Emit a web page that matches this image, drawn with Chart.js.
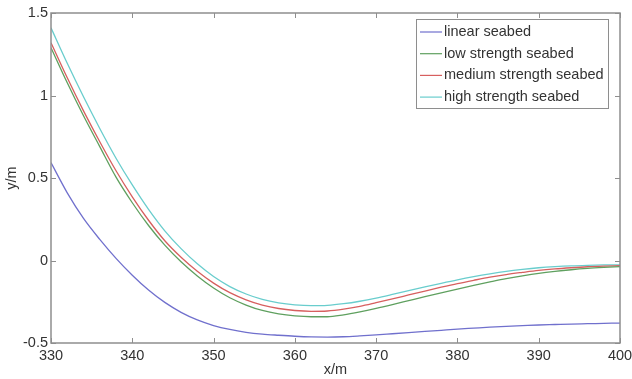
<!DOCTYPE html>
<html>
<head>
<meta charset="utf-8">
<script src="https://cdn.jsdelivr.net/npm/chart.js@4/dist/chart.umd.min.js"></script>
<style>
  html, body { margin: 0; padding: 0; background: #fff; }
  #wrap { width: 632px; height: 379px; }
</style>
</head>
<body>
<div id="wrap"><canvas id="c" width="632" height="379"></canvas></div>
<script>
// Horizontal positions (m)
const xValues = [330, 332, 334, 336, 338, 340, 342, 344, 346, 348, 350, 352, 354, 356, 358, 360,
  362, 364, 366, 368, 370, 372, 374, 376, 378, 380, 382, 384, 386, 388, 390, 392, 394, 396, 398, 400];

// Vertical displacement (m) for each seabed model
const linearSeabed = [0.593, 0.41, 0.255, 0.128, 0.013, -0.089, -0.179, -0.254, -0.314, -0.36, -0.394,
  -0.418, -0.435, -0.446, -0.453, -0.459, -0.463, -0.464, -0.462, -0.457, -0.451, -0.444, -0.437, -0.43,
  -0.423, -0.416, -0.41, -0.404, -0.399, -0.395, -0.391, -0.388, -0.385, -0.383, -0.381, -0.379];
const lowStrength = [1.29, 1.077, 0.877, 0.69, 0.505, 0.35, 0.212, 0.093, -0.008, -0.094, -0.167, -0.226,
  -0.27, -0.303, -0.324, -0.336, -0.341, -0.341, -0.329, -0.311, -0.29, -0.267, -0.243, -0.219, -0.196,
  -0.173, -0.151, -0.13, -0.11, -0.093, -0.078, -0.066, -0.056, -0.048, -0.042, -0.037];
const mediumStrength = [1.32, 1.107, 0.907, 0.72, 0.544, 0.386, 0.244, 0.12, 0.02, -0.065, -0.137,
  -0.195, -0.238, -0.27, -0.291, -0.303, -0.308, -0.306, -0.295, -0.278, -0.256, -0.233, -0.209, -0.185,
  -0.162, -0.14, -0.12, -0.101, -0.085, -0.072, -0.06, -0.051, -0.044, -0.038, -0.034, -0.031];
const highStrength = [1.41, 1.195, 0.992, 0.8, 0.62, 0.458, 0.31, 0.18, 0.072, -0.02, -0.097, -0.158,
  -0.203, -0.236, -0.257, -0.269, -0.274, -0.272, -0.262, -0.247, -0.228, -0.206, -0.183, -0.16, -0.138,
  -0.117, -0.098, -0.081, -0.066, -0.054, -0.044, -0.037, -0.032, -0.029, -0.027, -0.026];

const seriesNames = ['linear seabed', 'low strength seabed', 'medium strength seabed', 'high strength seabed'];
const seriesColors = ['rgb(112,112,205)', 'rgb(95,160,95)', 'rgb(215,95,95)', 'rgb(105,205,205)'];
const seriesValues = [linearSeabed, lowStrength, mediumStrength, highStrength];

const xTicks = [330, 340, 350, 360, 370, 380, 390, 400];
const yTicks = [-0.5, 0, 0.5, 1, 1.5];

const FONT = 'Liberation Sans, Arial, Helvetica, sans-serif';
const TEXT = '#333';
const AXIS = '#8e8e8e';

// Box frame with inward ticks on all four sides
const framePlugin = {
  id: 'frame',
  afterDatasetsDraw(chart) {
    const { ctx, chartArea: a, scales: { x, y } } = chart;
    ctx.save();
    ctx.strokeStyle = AXIS;
    ctx.lineWidth = 1.5;
    ctx.strokeRect(a.left, a.top, a.right - a.left, a.bottom - a.top);
    ctx.beginPath();
    const tl = 5;
    x.ticks.forEach(t => {
      const px = Math.round(x.getPixelForValue(t.value)) + 0.5;
      ctx.moveTo(px, a.bottom); ctx.lineTo(px, a.bottom - tl);
      ctx.moveTo(px, a.top); ctx.lineTo(px, a.top + tl);
    });
    y.ticks.forEach(t => {
      const py = Math.round(y.getPixelForValue(t.value)) + 0.5;
      ctx.moveTo(a.left, py); ctx.lineTo(a.left + tl, py);
      ctx.moveTo(a.right, py); ctx.lineTo(a.right - tl, py);
    });
    ctx.lineWidth = 1;
    ctx.stroke();
    ctx.restore();
  }
};

// Boxed legend in the upper right corner of the plot
const boxLegend = {
  id: 'boxLegend',
  afterDraw(chart) {
    const { ctx, chartArea: a } = chart;
    const left = a.right - 204, top = a.top + 6, w = 192, h = 89;
    ctx.save();
    ctx.fillStyle = '#fff';
    ctx.fillRect(left, top, w, h);
    ctx.strokeStyle = AXIS;
    ctx.lineWidth = 1;
    ctx.strokeRect(left + 0.5, top + 0.5, w, h);
    ctx.font = '14.5px ' + FONT;
    ctx.textBaseline = 'middle';
    chart.data.datasets.forEach((ds, i) => {
      const cy = top + 13 + i * 21.7;
      ctx.strokeStyle = ds.borderColor;
      ctx.lineWidth = 1.2;
      ctx.beginPath();
      ctx.moveTo(left + 4, cy); ctx.lineTo(left + 26, cy);
      ctx.stroke();
      ctx.fillStyle = TEXT;
      ctx.fillText(ds.label, left + 28, cy);
    });
    ctx.restore();
  }
};

new Chart(document.getElementById('c'), {
  type: 'line',
  data: {
    datasets: seriesValues.map((vals, i) => ({
      label: seriesNames[i],
      data: xValues.map((xv, k) => ({ x: xv, y: vals[k] })),
      borderColor: seriesColors[i],
      borderWidth: 1.3,
      pointRadius: 0,
      fill: false,
      cubicInterpolationMode: 'monotone'
    }))
  },
  options: {
    responsive: false,
    animation: false,
    layout: { padding: { top: 13, right: 12, left: 0, bottom: 0 } },
    plugins: { legend: { display: false }, tooltip: { enabled: false } },
    scales: {
      x: {
        type: 'linear',
        min: 330, max: 400,
        afterBuildTicks(s) { s.ticks = xTicks.map(v => ({ value: v })); },
        afterFit(s) { s.height = 36; s.paddingLeft = 0; s.paddingRight = 0; },
        grid: { display: false, drawTicks: false },
        border: { display: false },
        ticks: { color: TEXT, font: { family: FONT, size: 14.5 }, padding: 4, maxRotation: 0,
                 callback: v => String(v) },
        title: { display: true, text: 'x/m', color: TEXT, font: { family: FONT, size: 14.5 }, padding: { top: 0, bottom: 0 } }
      },
      y: {
        type: 'linear',
        min: -0.5, max: 1.5,
        afterBuildTicks(s) { s.ticks = yTicks.map(v => ({ value: v })); },
        afterFit(s) { s.width = 51; s.paddingTop = 0; s.paddingBottom = 0; },
        grid: { display: false, drawTicks: false },
        border: { display: false },
        ticks: { color: TEXT, font: { family: FONT, size: 14.5 }, padding: 3,
                 callback: v => String(v) },
        title: { display: true, text: 'y/m', color: TEXT, font: { family: FONT, size: 14.5 }, padding: { top: 3, bottom: 0 } }
      }
    }
  },
  plugins: [framePlugin, boxLegend]
});
</script>
</body>
</html>
